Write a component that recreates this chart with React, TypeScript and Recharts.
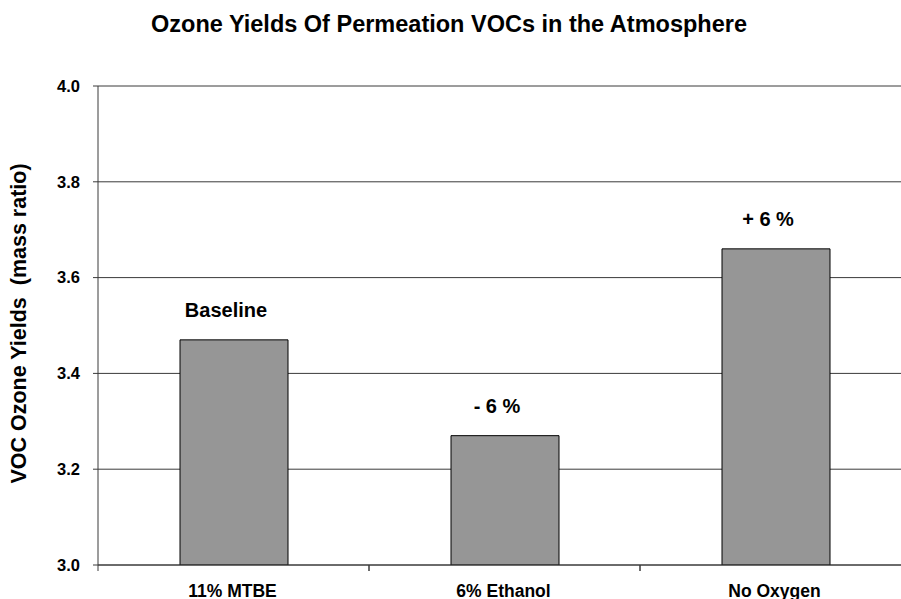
import { BarChart, Bar, XAxis, YAxis, CartesianGrid, LabelList, Label } from 'recharts';

const FUELS = ['11% MTBE', '6% Ethanol', 'No Oxygen'];
const OZONE_YIELDS = [3.47, 3.27, 3.66];
const CHANGE_NOTES = ['Baseline', '- 6 %', '+ 6 %'];
const Y_TICKS = [3.0, 3.2, 3.4, 3.6, 3.8, 4.0];

const FONT = '"Liberation Sans", Arial, Helvetica, sans-serif';
const LINE = '#3a3a3a';

const data = FUELS.map((name, i) => ({ name, value: OZONE_YIELDS[i], note: CHANGE_NOTES[i] }));

// category label plus a tick mark on the edges of each band (Excel style)
function FuelTick(props: any) {
  const { x, y, payload, width } = props;
  const band = width / FUELS.length;
  const left = x - band / 2;
  return (
    <g>
      <line x1={left} y1={y} x2={left} y2={y + 6} stroke={LINE} strokeWidth={1} />
      <line x1={x + band / 2} y1={y} x2={x + band / 2} y2={y + 6} stroke={LINE} strokeWidth={1} />
      <text x={x - 1} y={y + 32} textAnchor='middle' fontFamily={FONT} fontWeight='bold' fontSize={17.5} fill='#000'>
        {payload.value}
      </text>
    </g>
  );
}

function NoteLabel(props: any) {
  const { x, y, width, value } = props;
  return (
    <text
      x={x + width / 2 - 8}
      y={y - 30}
      textAnchor='middle'
      dominantBaseline='central'
      fontFamily={FONT}
      fontWeight='bold'
      fontSize={20}
      fill='#000'
    >
      {value}
    </text>
  );
}

export default function App() {
  return (
    <div style={{ position: 'absolute', left: 0, top: 0, width: 901, height: 599, overflow: 'hidden', background: '#fff' }}>
      <div
        style={{
          position: 'absolute',
          top: 9,
          left: 0,
          width: 898,
          textAlign: 'center',
          fontFamily: FONT,
          fontWeight: 'bold',
          fontSize: 23.5,
          color: '#000',
          lineHeight: '30px',
        }}
      >
        Ozone Yields Of Permeation VOCs in the Atmosphere
      </div>
      <BarChart width={930} height={599} data={data} margin={{ top: 86, right: 19, bottom: 0, left: 0 }}>
        <CartesianGrid vertical={false} stroke={LINE} strokeWidth={1} />
        <XAxis
          dataKey='name'
          height={34}
          tickLine={false}
          tickSize={0}
          tickMargin={0}
          axisLine={{ stroke: LINE, strokeWidth: 1 }}
          tick={<FuelTick />}
          interval={0}
        />
        <YAxis
          width={98}
          domain={[3, 4]}
          ticks={Y_TICKS}
          tickFormatter={(v) => Number(v).toFixed(1)}
          tickSize={5}
          tickMargin={13}
          tickLine={{ stroke: LINE }}
          axisLine={{ stroke: LINE, strokeWidth: 1 }}
          tick={{ fontFamily: FONT, fontWeight: 'bold', fontSize: 16.5, fill: '#000' }}
          allowDataOverflow
        >
          <Label
            content={({ viewBox }: any) => {
              const cx = 19;
              const cy = viewBox.y + viewBox.height / 2 - 2;
              return (
                <text
                  x={cx}
                  y={cy}
                  transform={`rotate(-90, ${cx}, ${cy})`}
                  textAnchor='middle'
                  dominantBaseline='central'
                  fontFamily={FONT}
                  fontWeight='bold'
                  fontSize={21.5}
                  fill='#000'
                  style={{ whiteSpace: 'pre' }}
                >
                  {'VOC Ozone Yields  (mass ratio)'}
                </text>
              );
            }}
          />
        </YAxis>
        <Bar dataKey='value' fill='#969696' stroke='#000' strokeWidth={1} barSize={108} isAnimationActive={false}>
          <LabelList dataKey='note' content={<NoteLabel />} />
        </Bar>
      </BarChart>
    </div>
  );
}
